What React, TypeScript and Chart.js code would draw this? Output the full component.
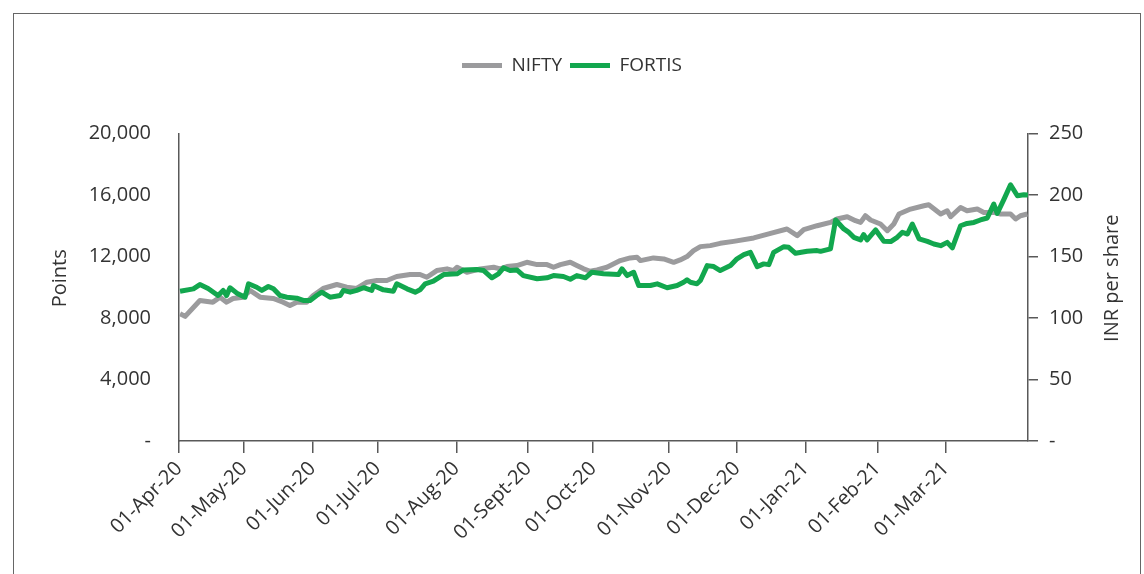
import React, { useEffect, useRef } from 'react';
import { Chart, registerables } from 'chart.js';

Chart.register(...registerables);

// x positions are trading-day indexes counted from 01-Apr-20
const monthTickDays = [0, 19, 39, 58, 81, 102, 121, 143, 163, 183, 204, 224];
const monthTickLabels = [
  '01-Apr-20', '01-May-20', '01-Jun-20', '01-Jul-20', '01-Aug-20', '01-Sept-20',
  '01-Oct-20', '01-Nov-20', '01-Dec-20', '01-Jan-21', '01-Feb-21', '01-Mar-21',
];

const niftyDays = [
  0.3, 1.8, 6.1, 9.9, 12.0, 13.9, 15.8, 18.7, 20.8, 23.7,
  27.5, 30.4, 32.4, 34.4, 37.3, 39.2, 42.1, 46.1, 49.0, 51.9,
  54.9, 57.8, 60.7, 63.6, 67.5, 70.4, 72.4, 75.3, 78.3, 80.2,
  81.2, 84.1, 88.0, 91.9, 93.8, 95.8, 98.7, 101.6, 104.6, 107.5,
  109.4, 111.4, 114.3, 116.2, 118.2, 120.1, 122.1, 125.0, 128.9, 131.8,
  133.8, 134.8, 138.6, 141.6, 144.5, 146.4, 148.4, 150.3, 152.3, 155.2,
  158.1, 162.0, 167.9, 172.8, 177.6, 180.6, 182.5, 186.4, 190.3, 192.2,
  195.2, 197.6, 199.1, 200.5, 202.0, 204.9, 206.9, 208.8, 210.3, 213.7,
  217.6, 219.0, 222.5, 224.4, 225.4, 228.3, 230.2, 233.2, 235.1, 238.0,
  240.0, 242.9, 244.4, 245.8, 247.8,
];
const niftyPoints = [
  8279, 8104, 9141, 9031, 9355, 9031, 9271, 9355, 9789, 9355,
  9271, 9031, 8817, 9031, 9031, 9465, 9919, 10178, 10003, 9919,
  10327, 10438, 10438, 10697, 10827, 10827, 10652, 11086, 11196, 11086,
  11300, 10976, 11196, 11300, 11196, 11345, 11410, 11624, 11475, 11475,
  11300, 11475, 11624, 11410, 11196, 11041, 11131, 11300, 11734, 11909,
  11948, 11734, 11909, 11844, 11624, 11780, 11994, 12383, 12642, 12707,
  12856, 12985, 13206, 13504, 13789, 13355, 13744, 14003, 14217, 14438,
  14587, 14327, 14217, 14652, 14373, 14114, 13679, 14114, 14762, 15086,
  15300, 15365, 14762, 14976, 14587, 15190, 14976, 15086, 14866, 14866,
  14762, 14762, 14438, 14652, 14762,
];

const fortisDays = [
  0.3, 4.2, 6.1, 8.5, 11.4, 12.9, 13.9, 14.9, 16.9, 19.3,
  20.3, 22.7, 24.2, 26.1, 27.6, 29.5, 31.5, 34.4, 36.3, 38.3,
  40.2, 41.7, 44.1, 47.1, 48.0, 50.0, 51.9, 53.9, 56.3, 56.8,
  59.7, 62.6, 63.6, 66.6, 69.0, 70.4, 71.9, 74.3, 77.3, 81.2,
  83.1, 87.0, 89.0, 91.4, 93.3, 94.8, 96.7, 98.7, 100.6, 104.6,
  107.5, 109.4, 112.3, 114.3, 116.2, 118.7, 120.6, 124.0, 128.4, 129.4,
  130.9, 132.8, 134.3, 137.7, 139.7, 142.6, 145.5, 147.4, 148.4, 149.4,
  151.3, 152.3, 154.3, 156.2, 158.1, 161.1, 163.0, 165.0, 166.9, 168.9,
  170.8, 172.3, 173.7, 176.7, 178.1, 180.1, 183.5, 186.4, 187.4, 190.3,
  191.8, 194.2, 195.7, 197.1, 199.1, 200.0, 201.0, 203.5, 205.9, 207.9,
  209.8, 211.3, 212.8, 214.2, 216.2, 218.6, 220.5, 222.5, 224.4, 225.9,
  228.3, 230.2, 232.2, 234.1, 236.1, 238.0, 239.0, 241.0, 242.9, 244.9,
  246.8, 248.0,
];
const fortisPrice = [
  121.8, 123.7, 127.2, 124.0, 118.3, 122.4, 118.3, 124.6, 120.2, 116.9,
  127.8, 125.0, 122.4, 125.6, 123.7, 118.3, 116.9, 116.1, 114.3, 114.3,
  118.3, 121.0, 116.9, 118.3, 122.4, 121.0, 122.4, 124.6, 122.4, 126.4,
  122.9, 121.8, 127.8, 123.7, 121.0, 122.9, 127.8, 129.9, 135.3, 135.9,
  139.1, 139.4, 138.6, 132.7, 135.9, 140.8, 138.6, 139.1, 134.5, 131.9,
  132.7, 134.5, 133.7, 131.5, 134.5, 132.7, 137.2, 135.9, 135.3, 140.0,
  134.5, 137.2, 126.4, 126.4, 127.8, 124.6, 126.4, 129.1, 131.0, 129.1,
  127.8, 130.5, 142.6, 141.8, 138.6, 142.6, 148.1, 151.5, 153.4, 141.8,
  144.0, 143.4, 153.4, 158.0, 157.5, 152.6, 154.2, 154.8, 154.2, 156.2,
  179.7, 172.4, 169.6, 165.6, 163.5, 167.8, 163.5, 171.6, 162.3, 162.1,
  165.6, 169.6, 168.3, 176.4, 164.3, 162.3, 160.2, 158.8, 161.5, 157.0,
  175.0, 176.9, 177.7, 179.7, 181.3, 192.6, 185.0, 196.7, 208.3, 199.4,
  200.2, 199.9,
];

const leftAxisTitle = 'Points';
const rightAxisTitle = 'INR per share';

const GRAY = '#9b9b9d';
const GREEN = '#12a74e';
const AXIS = '#595959';
const TEXT = '#333333';
const FONT = '"Open Sans", "Noto Sans", sans-serif';

const legendGap = {
  id: 'legendGap',
  beforeInit(chart: any) {
    const legend = chart.legend;
    if (!legend) return;
    const origFit = legend.fit;
    legend.fit = function () {
      origFit.call(this);
      this.height += 48.5;
    };
  },
};

const axisTitles = {
  id: 'axisTitles',
  afterDraw(chart: any) {
    const { ctx, chartArea } = chart;
    const cy = (chartArea.top + chartArea.bottom) / 2 - 9;
    ctx.save();
    ctx.fillStyle = TEXT;
    ctx.font = '20px ' + FONT;
    ctx.textAlign = 'center';
    ctx.textBaseline = 'middle';
    ctx.translate(chartArea.left - 119, cy);
    ctx.rotate(-Math.PI / 2);
    ctx.fillText(leftAxisTitle, 0, 0);
    ctx.restore();
    ctx.save();
    ctx.fillStyle = TEXT;
    ctx.font = '20px ' + FONT;
    ctx.textAlign = 'center';
    ctx.textBaseline = 'middle';
    ctx.translate(chartArea.right + 84, cy);
    ctx.rotate(-Math.PI / 2);
    ctx.fillText(rightAxisTitle, 0, 0);
    ctx.restore();
  },
};

const dashZero = (v: any) => (Number(v) === 0 ? '-' : Number(v).toLocaleString('en-US'));

export default function App() {
  const ref = useRef<HTMLCanvasElement>(null);
  useEffect(() => {
    const chart = new Chart(ref.current as HTMLCanvasElement, {
      type: 'line',
      data: {
        datasets: [
          {
            label: 'NIFTY',
            data: niftyDays.map((d, i) => ({ x: d, y: niftyPoints[i] })),
            borderColor: GRAY,
            backgroundColor: GRAY,
            borderWidth: 5,
            pointRadius: 0,
            borderJoinStyle: 'round',
            yAxisID: 'y',
            order: 0,
          },
          {
            label: 'FORTIS',
            data: fortisDays.map((d, i) => ({ x: d, y: fortisPrice[i] })),
            borderColor: GREEN,
            backgroundColor: GREEN,
            borderWidth: 5,
            pointRadius: 0,
            borderJoinStyle: 'round',
            yAxisID: 'y1',
            order: -1,
          },
        ],
      },
      options: {
        animation: false,
        responsive: false,
        maintainAspectRatio: false,
        layout: { padding: { top: 48, left: 0, right: 0, bottom: 0 } },
        plugins: {
          legend: {
            position: 'top',
            labels: {
              usePointStyle: true,
              pointStyle: 'line',
              pointStyleWidth: 40,
              padding: 8,
              color: TEXT,
              font: { family: FONT, size: 19 },
              sort: (a: any, b: any) => a.datasetIndex - b.datasetIndex,
            },
          },
          tooltip: { enabled: false },
        },
        scales: {
          x: {
            type: 'linear',
            min: 0,
            max: 248,
            afterBuildTicks: (s: any) => {
              s.ticks = monthTickDays.map((v) => ({ value: v }));
            },
            afterFit: (s: any) => {
              s.height = 133;
            },
            ticks: {
              autoSkip: false,
              maxRotation: 45,
              minRotation: 45,
              padding: 4,
              color: TEXT,
              font: { family: FONT, size: 20 },
              callback: (_v: any, i: number) => monthTickLabels[i],
            },
            grid: { drawOnChartArea: false, tickLength: 12, color: AXIS, lineWidth: 1.5 },
            border: { color: AXIS, width: 1.5 },
          },
          y: {
            position: 'left',
            min: 0,
            max: 20000,
            afterFit: (s: any) => {
              s.width = 179;
            },
            ticks: {
              stepSize: 4000,
              padding: 28,
              color: TEXT,
              font: { family: FONT, size: 20 },
              callback: dashZero,
            },
            grid: { drawOnChartArea: false, drawTicks: false },
            border: { color: AXIS, width: 1.5 },
          },
          y1: {
            position: 'right',
            min: 0,
            max: 250,
            afterFit: (s: any) => {
              s.width = 116;
            },
            ticks: {
              stepSize: 50,
              padding: 11,
              color: TEXT,
              font: { family: FONT, size: 20 },
              callback: dashZero,
            },
            grid: { drawOnChartArea: false, tickLength: 10, color: AXIS, lineWidth: 1.5 },
            border: { color: AXIS, width: 1.5 },
          },
        },
      } as any,
      plugins: [legendGap, axisTitles],
    });
    return () => chart.destroy();
  }, []);

  return (
    <div style={{ position: 'absolute', left: 0, top: 0, width: 1144, height: 574, overflow: 'hidden', background: '#fff' }}>
      <div
        style={{
          position: 'absolute',
          left: 13,
          top: 13,
          width: 1126,
          height: 600,
          borderLeft: '1.5px solid #666',
          borderTop: '1.5px solid #666',
          borderRight: '1.5px solid #666',
        }}
      />
      <canvas ref={ref} width={1144} height={574} style={{ position: 'absolute', left: 0, top: 0, width: 1144, height: 574 }} />
    </div>
  );
}
